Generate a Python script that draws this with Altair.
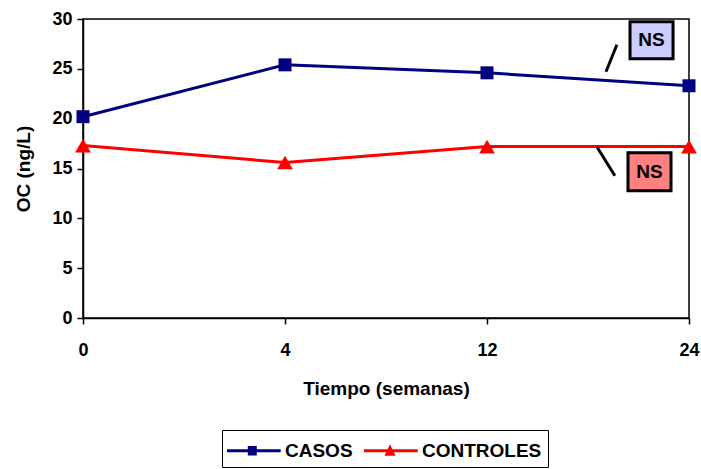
import altair as alt
import pandas as pd

# Semanas de seguimiento y osteocalcina media (ng/L) de cada grupo
semanas = ["0", "4", "12", "24"]
casos = [20.2, 25.4, 24.6, 23.3]
controles = [17.3, 15.6, 17.2, 17.2]

grupos = ["CASOS", "CONTROLES"]
colores = ["#000080", "#FF0000"]

# Símbolos de la leyenda: trazo horizontal con el marcador de cada serie
simbolo_casos = ("M-1.069,-0.103L2.634,-0.103L2.634,0.103L-1.069,0.103Z "
                 "M0.366,-0.33L0.986,-0.33L0.986,0.33L0.366,0.33Z")
simbolo_controles = ("M-1.069,-0.103L2.634,-0.103L2.634,0.103L-1.069,0.103Z "
                     "M0.724,-0.455L1.103,0.345L0.345,0.345Z")

# Anotaciones "NS" (posición en unidades de los ejes)
ns_texto = ["NS", "NS"]
ns_relleno = ["#CCCCFF", "#FF8080"]
ns_x = [2.708, 2.698]
ns_x2 = [2.921, 2.911]
ns_y = [29.73, 16.58]
ns_y2 = [26.02, 12.77]
guia_x = [2.643, 2.544]
guia_y = [27.42, 17.19]
guia_x2 = [2.589, 2.633]
guia_y2 = [24.71, 14.28]

FONT = "Liberation Sans"

filas = []
for i, s in enumerate(semanas):
    filas.append({"pos": i, "semana": s, "grupo": "CASOS", "oc": casos[i]})
for i, s in enumerate(semanas):
    filas.append({"pos": i, "semana": s, "grupo": "CONTROLES", "oc": controles[i]})
df = pd.DataFrame(filas)

ns = pd.DataFrame({
    "texto": ns_texto, "relleno": ns_relleno,
    "pos": ns_x, "x2": ns_x2, "oc": ns_y, "y2": ns_y2,
    "xc": [(a + b) / 2 for a, b in zip(ns_x, ns_x2)],
    "yc": [(a + b) / 2 for a, b in zip(ns_y, ns_y2)],
    "gx": guia_x, "gy": guia_y, "gx2": guia_x2, "gy2": guia_y2,
})

etiquetas = "['" + "','".join(semanas) + "'][datum.value]"

x_scale = alt.Scale(domain=[0, 3], nice=False, zero=False, padding=0)
y_scale = alt.Scale(domain=[0, 30], nice=False)
color_scale = alt.Scale(domain=grupos, range=colores)

x_axis = alt.Axis(
    title="Tiempo (semanas)", values=[0, 1, 2, 3], labelExpr=etiquetas,
    grid=False, tickSize=6, tickColor="black", tickWidth=1.5,
    domainColor="black", domainWidth=1.5,
    labelFont=FONT, labelFontSize=18, labelFontWeight="bold", labelColor="black",
    labelBaseline="alphabetic", labelPadding=31, labelFlush=False,
    titleFont=FONT, titleFontSize=19, titleFontWeight="bold", titleColor="black",
    titleBaseline="alphabetic", titleY=76,
)
y_axis = alt.Axis(
    title="OC (ng/L)", values=[0, 5, 10, 15, 20, 25, 30], grid=False,
    tickSize=6, tickColor="black", tickWidth=1.5,
    domainColor="black", domainWidth=1.5,
    labelFont=FONT, labelFontSize=18, labelFontWeight="bold", labelColor="black",
    labelPadding=5,
    titleFont=FONT, titleFontSize=19, titleFontWeight="bold", titleColor="black",
    titleBaseline="alphabetic", titleX=-54, titleY=149.5, titleAngle=270,
)

leyenda = alt.Legend(
    title=None, orient="none", legendX=139, legendY=411, direction="horizontal",
    strokeColor="black", padding=6, symbolSize=841, symbolStrokeWidth=0,
    labelFont=FONT, labelFontSize=19, labelFontWeight="bold", labelColor="black",
    labelOffset=28, columnPadding=10, symbolOpacity=1,
)

X = alt.X("pos:Q", scale=x_scale, axis=x_axis)
Y = alt.Y("oc:Q", scale=y_scale, axis=y_axis)
C = alt.Color("grupo:N", scale=color_scale, legend=leyenda)

base = alt.Chart(df)

lineas = base.mark_line(strokeWidth=3).encode(x=X, y=Y, color=C, detail="grupo:N")

cuadrados = base.transform_filter(alt.datum.grupo == "CASOS").mark_point(
    shape="square", filled=True, size=169, opacity=1, strokeWidth=0
).encode(x=X, y=Y, color=C)

triangulos = base.transform_filter(alt.datum.grupo == "CONTROLES").mark_point(
    shape="triangle-up", filled=True, size=250, opacity=1, strokeWidth=0
).encode(x=X, y=Y, color=C)

# Capa sin datos visibles que sólo aporta los símbolos de la leyenda
entradas = base.transform_filter("false").mark_point(
    filled=True, opacity=1, strokeWidth=0
).encode(
    x=X, y=Y, color=C,
    shape=alt.Shape("grupo:N", scale=alt.Scale(domain=grupos,
                    range=[simbolo_casos, simbolo_controles]), legend=leyenda),
)

notas = alt.Chart(ns)

guias = notas.mark_rule(color="black", strokeWidth=3).encode(
    x=alt.X("gx:Q", scale=x_scale, axis=x_axis),
    y=alt.Y("gy:Q", scale=y_scale, axis=y_axis),
    x2="gx2:Q", y2="gy2:Q",
)

cajas = notas.mark_rect(stroke="black", strokeWidth=3).encode(
    x=X, y=Y, x2="x2:Q", y2="y2:Q",
    fill=alt.Fill("relleno:N", scale=None),
)

textos = notas.mark_text(
    font=FONT, fontSize=19, fontWeight="bold", color="black", baseline="middle"
).encode(
    x=alt.X("xc:Q", scale=x_scale, axis=x_axis),
    y=alt.Y("yc:Q", scale=y_scale, axis=y_axis),
    text="texto:N",
)

chart = alt.layer(
    lineas, cuadrados, triangulos, entradas, guias, cajas, textos
).properties(
    width=606, height=299,
    autosize=alt.AutoSizeParams(type="none"),
    padding={"left": 83, "top": 19, "right": 12, "bottom": 151},
    background="white",
).configure_view(
    stroke="black", strokeWidth=1.5
)

chart.save("out.html", embed_options={"renderer": "svg", "actions": False})
